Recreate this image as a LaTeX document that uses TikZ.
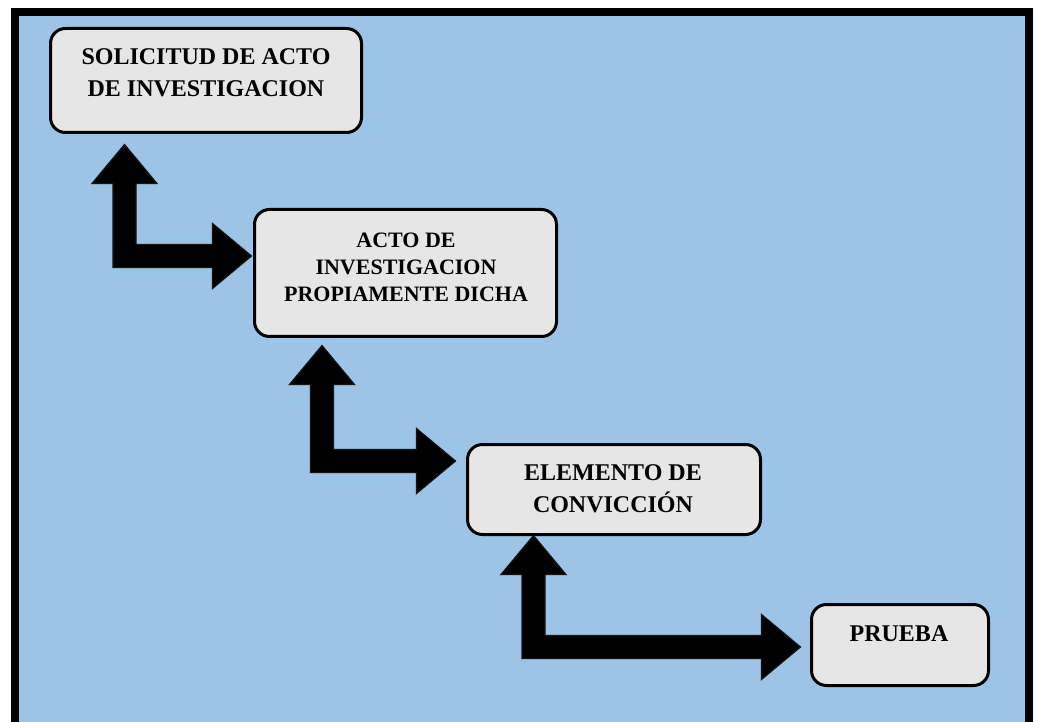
\documentclass[tikz,border=0pt]{standalone}
\usepackage{fontspec}
\setmainfont{Liberation Serif}
\usetikzlibrary{calc}

\definecolor{panelblue}{HTML}{9DC3E6}
\definecolor{boxgray}{HTML}{E7E6E6}
\definecolor{edgeblack}{HTML}{141414}

\tikzset{
  box/.style={draw=black, line width=3pt, fill=boxgray, rounded corners=15pt,
    inner sep=0pt},
  lbl/.style={align=center, font=\bfseries, text=black, inner sep=0pt},
  blockarrow/.style={fill=black, draw=edgeblack, line width=1.2pt, line join=miter}
}

% L-shaped double arrow: #1 = tip pointing up, #2 = tip pointing right
\newcommand{\lconnector}[2]{%
  \path[blockarrow] let \p1=(#1), \p2=(#2) in
    (\x1,\y1) -- (\x1+32.5pt,\y1-39pt) -- (\x1+11.5pt,\y1-39pt)
    -- (\x1+11.5pt,\y2+11.5pt) -- (\x2-39pt,\y2+11.5pt)
    -- (\x2-39pt,\y2+32.5pt) -- (\x2,\y2) -- (\x2-39pt,\y2-32.5pt)
    -- (\x2-39pt,\y2-11.5pt) -- (\x1-11.5pt,\y2-11.5pt)
    -- (\x1-11.5pt,\y1-39pt) -- (\x1-32.5pt,\y1-39pt) -- cycle;}

\begin{document}
\begin{tikzpicture}[x=1pt, y=-1pt]
  % page and framed panel
  \fill[white] (0,0) rectangle (1037,722);
  \useasboundingbox (0,0) rectangle (1037,722);
  \draw[line width=8pt, fill=panelblue] (15,12.5) rectangle (1029,760);

  % boxes
  \node[box, minimum width=311pt, minimum height=104pt] (b1) at (206,80.5) {};
  \node[box, minimum width=302pt, minimum height=127pt] (b2) at (405.5,273) {};
  \node[box, minimum width=293pt, minimum height=90pt]  (b3) at (614,489.5) {};
  \node[box, minimum width=177pt, minimum height=81pt]  (b4) at (900,645) {};

  % box texts
  \node[lbl, font=\bfseries\fontsize{24}{32}\selectfont] (t1) at (206,72.5)
    {SOLICITUD DE ACTO\\DE INVESTIGACION};
  \node[lbl, font=\bfseries\fontsize{22}{27}\selectfont] (t2) at (406,267)
    {ACTO DE\\INVESTIGACION\\PROPIAMENTE DICHA};
  \node[lbl, font=\bfseries\fontsize{24}{32}\selectfont] (t3) at (613,488.5)
    {ELEMENTO DE\\CONVICCIÓN};
  \node[lbl, font=\bfseries\fontsize{24}{32}\selectfont] (t4) at (899,633.5)
    {PRUEBA};

  % arrow tips
  \coordinate (u1) at ([shift={(75.5,10.5)}]b1.south west);
  \coordinate (r1) at ([shift={(-1.5,-17)}]b2.west);
  \coordinate (u2) at ([shift={(69,7.5)}]b2.south west);
  \coordinate (r2) at ([shift={(-10.5,-28.5)}]b3.west);
  \coordinate (u3) at ([shift={(67.5,-0.5)}]b3.south west);
  \coordinate (r3) at ([shift={(-9.5,2)}]b4.west);

  % connectors
  \lconnector{u1}{r1}
  \lconnector{u2}{r2}
  \lconnector{u3}{r3}
\end{tikzpicture}
\end{document}
